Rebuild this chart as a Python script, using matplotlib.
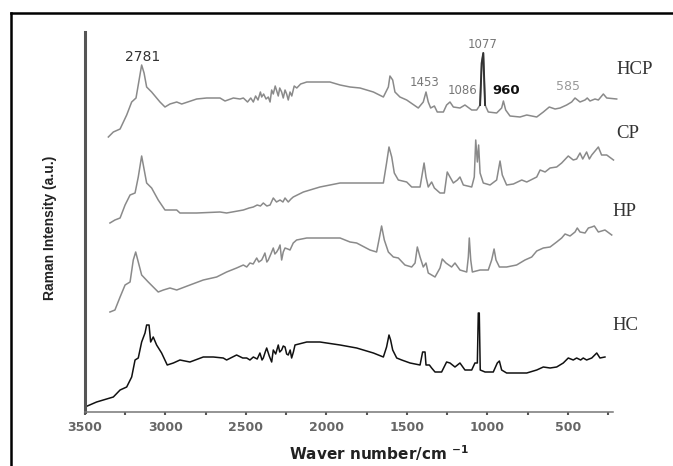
import matplotlib
matplotlib.use('Agg')
import matplotlib.pyplot as plt
from matplotlib.lines import Line2D

# ==============================================================================
# spectra: (wavenumber cm-1, offset intensity a.u.)
hcp_points = [(3355, 275), (3324, 280), (3282, 283), (3241, 297), (3210, 310), (3183, 314),
              (3167, 329), (3148, 347), (3133, 339), (3117, 325), (3086, 320), (3034, 310),
              (3003, 305), (2972, 308), (2930, 310), (2899, 308), (2806, 313), (2744, 314),
              (2661, 314), (2630, 311), (2578, 314), (2537, 313), (2516, 314), (2490, 310),
              (2470, 314), (2454, 310), (2440, 316), (2425, 312), (2410, 320), (2402, 315),
              (2390, 318), (2375, 313), (2361, 315), (2350, 310), (2340, 322), (2330, 318),
              (2318, 326), (2299, 316), (2290, 324), (2278, 320), (2268, 314), (2257, 322),
              (2247, 318), (2237, 312), (2226, 320), (2215, 316), (2200, 326), (2184, 324),
              (2160, 328), (2122, 330), (2050, 330), (1978, 330), (1915, 327), (1853, 325),
              (1791, 324), (1708, 320), (1646, 315), (1615, 325), (1605, 336), (1588, 332),
              (1574, 320), (1543, 315), (1501, 312), (1429, 304), (1398, 310), (1381, 320),
              (1367, 310), (1352, 304), (1329, 306), (1311, 300), (1273, 300), (1253, 307),
              (1232, 310), (1211, 305), (1170, 304), (1139, 307), (1097, 302), (1066, 302),
              (1045, 307), (1035, 349), (1025, 359), (1014, 307), (994, 300), (942, 299),
              (911, 304), (900, 311), (886, 302), (859, 296), (797, 295), (755, 297),
              (693, 295), (652, 300), (615, 305), (579, 303), (548, 304), (507, 307),
              (476, 310), (455, 314), (424, 310), (393, 312), (379, 314), (362, 311),
              (331, 313), (310, 312), (279, 318), (258, 314), (196, 313)]

cp_points = [(3345, 189), (3314, 192), (3282, 194), (3251, 207), (3220, 217), (3189, 219),
             (3169, 235), (3148, 256), (3132, 242), (3117, 229), (3086, 224), (3045, 212),
             (3003, 202), (2972, 202), (2930, 202), (2910, 199), (2806, 199), (2661, 200),
             (2620, 199), (2516, 202), (2480, 204), (2454, 205), (2430, 207), (2410, 206),
             (2392, 209), (2370, 206), (2350, 207), (2330, 214), (2310, 210), (2288, 212),
             (2270, 210), (2257, 214), (2237, 210), (2220, 213), (2206, 215), (2143, 220),
             (2040, 225), (1915, 229), (1791, 229), (1708, 229), (1646, 229), (1626, 249),
             (1611, 265), (1594, 255), (1578, 239), (1553, 232), (1501, 230), (1470, 225),
             (1418, 225), (1393, 249), (1381, 235), (1367, 225), (1346, 230), (1329, 224),
             (1294, 219), (1267, 219), (1249, 240), (1232, 235), (1211, 229), (1186, 232),
             (1170, 235), (1149, 227), (1097, 225), (1081, 235), (1072, 272), (1062, 250),
             (1054, 267), (1045, 239), (1025, 229), (983, 227), (942, 232), (921, 251),
             (907, 237), (880, 227), (838, 228), (786, 232), (755, 230), (693, 235),
             (672, 242), (641, 240), (610, 244), (569, 245), (538, 249), (497, 256),
             (466, 252), (445, 253), (424, 259), (407, 253), (383, 260), (366, 253),
             (351, 257), (310, 265), (290, 257), (258, 257), (216, 252)]

hp_points = [(3345, 100), (3314, 102), (3282, 115), (3251, 127), (3220, 130), (3200, 152),
             (3185, 160), (3169, 150), (3148, 137), (3107, 130), (3045, 120), (3013, 122),
             (2972, 124), (2930, 122), (2848, 127), (2765, 132), (2682, 135), (2620, 140),
             (2558, 144), (2516, 147), (2495, 145), (2475, 149), (2455, 148), (2433, 154),
             (2420, 150), (2402, 152), (2390, 156), (2382, 159), (2370, 150), (2361, 152),
             (2345, 158), (2330, 164), (2320, 158), (2309, 160), (2298, 163), (2288, 167),
             (2278, 152), (2268, 160), (2257, 164), (2240, 163), (2226, 162), (2206, 169),
             (2185, 172), (2122, 174), (1998, 174), (1915, 174), (1853, 170), (1812, 169),
             (1729, 162), (1688, 160), (1671, 174), (1657, 186), (1640, 172), (1615, 160),
             (1584, 155), (1553, 154), (1512, 147), (1470, 145), (1449, 149), (1435, 165),
             (1418, 155), (1398, 145), (1381, 149), (1367, 139), (1325, 135), (1294, 144),
             (1280, 153), (1257, 149), (1222, 145), (1201, 149), (1170, 142), (1128, 140),
             (1118, 155), (1112, 174), (1103, 152), (1093, 140), (1045, 142), (994, 142),
             (973, 152), (958, 163), (946, 152), (925, 145), (880, 145), (818, 147),
             (766, 152), (724, 155), (693, 161), (652, 164), (610, 165), (569, 170),
             (538, 174), (517, 178), (486, 176), (455, 180), (441, 184), (424, 180),
             (393, 179), (372, 184), (351, 185), (335, 186), (310, 180), (269, 182),
             (227, 177)]

hc_points = [(3500, 5), (3428, 10), (3324, 15), (3282, 22), (3241, 25), (3210, 35),
             (3189, 52), (3169, 54), (3148, 70), (3127, 79), (3117, 87), (3102, 87),
             (3092, 70), (3076, 75), (3055, 67), (3024, 59), (2989, 47), (2951, 49),
             (2910, 52), (2848, 50), (2765, 55), (2703, 55), (2641, 54), (2620, 52),
             (2558, 57), (2520, 54), (2495, 54), (2475, 52), (2454, 55), (2430, 53),
             (2413, 59), (2400, 52), (2392, 54), (2380, 60), (2371, 64), (2355, 56),
             (2340, 50), (2330, 62), (2315, 58), (2299, 67), (2290, 60), (2278, 62),
             (2268, 66), (2257, 65), (2247, 58), (2237, 57), (2225, 62), (2216, 54),
             (2205, 60), (2195, 67), (2122, 70), (2040, 70), (1915, 67), (1812, 64),
             (1708, 59), (1646, 55), (1626, 65), (1611, 77), (1601, 72), (1588, 62),
             (1563, 54), (1532, 52), (1480, 49), (1418, 47), (1402, 60), (1387, 60),
             (1381, 47), (1360, 47), (1346, 44), (1325, 40), (1284, 40), (1253, 50),
             (1232, 49), (1201, 45), (1170, 49), (1139, 42), (1097, 42), (1077, 49),
             (1062, 49), (1056, 99), (1050, 99), (1044, 42), (1014, 40), (963, 40),
             (938, 49), (925, 51), (911, 42), (880, 39), (838, 39), (786, 39),
             (755, 39), (693, 42), (652, 45), (610, 44), (569, 45), (528, 49),
             (497, 54), (466, 52), (445, 54), (420, 52), (404, 54), (383, 52),
             (351, 54), (320, 59), (300, 54), (269, 55)]

# peak annotations: (text, wavenumber, height)
peak_labels = [('2781', 3140, 355), ('1077', 1027, 367), ('1453', 1387, 329),
               ('1086', 1151, 322), ('960', 884, 321), ('585', 499, 326)]

series_names = ['HCP', 'CP', 'HP', 'HC']

x_ticks = [3500, 3000, 2500, 2000, 1500, 1000, 500]
x_minor = [3250, 2750, 2250, 1750, 1250, 750, 250]

# ==============================================================================
fig = plt.figure(figsize=(6.73, 4.66), dpi=100)
ax = fig.add_axes([85/673, 54/466, 528/673, 380/466])

def unzip(points):
    return [p[0] for p in points], [p[1] for p in points]

gray = '#8a8a8a'
for pts, col in [(hcp_points, gray), (cp_points, gray), (hp_points, gray), (hc_points, '#111111')]:
    xs, ys = unzip(pts)
    ax.plot(xs, ys, color=col, lw=1.1, clip_on=False)

# dark strong band in HCP
xs, ys = unzip([p for p in hcp_points if 1014 <= p[0] <= 1045])
ax.plot(xs, ys, color='#333333', lw=1.4, clip_on=False)

ax.set_xlim(3500, 219)
ax.set_ylim(0, 380)
ax.set_yticks([])
ax.set_xticks(x_ticks)
ax.set_xticks(x_minor, minor=True)
ax.tick_params(axis='x', which='both', length=2.5, width=1.5, color='#555555',
               labelsize=9, labelcolor='#666666', pad=4)
for lab in ax.get_xticklabels():
    lab.set_fontweight('bold')

ax.spines['top'].set_visible(False)
ax.spines['right'].set_visible(False)
ax.spines['left'].set_linewidth(2.2)
ax.spines['left'].set_color('#555555')
ax.spines['bottom'].set_linewidth(1.1)
ax.spines['bottom'].set_color('#777777')

# ------------------------------------------------------------------------------
# peak labels
styles = {'2781': dict(color='#333333', fontsize=10),
          '960': dict(color='#111111', fontsize=9.5, fontweight='bold'),
          '585': dict(color='#999999', fontsize=9)}
for txt, wx, wy in peak_labels:
    st = styles.get(txt, dict(color='#777777', fontsize=8.5))
    ax.text(wx, wy, txt, ha='center', va='center', **st)

# series names (right hand side)
name_pos = [(616, 70), (616, 133), (612, 212), (612, 325)]
for name, (px, py) in zip(series_names, name_pos):
    fig.text(px/673, 1 - py/466, name, ha='left', va='center',
             family='Liberation Serif', fontsize=13.5, color='#333333')

fig.text(379/673, 1 - 453/466, r'Waver number/cm $^{\mathbf{-1}}$', ha='center', va='center',
         fontsize=11, fontweight='bold', color='#222222')
fig.text(50/673, 1 - 228/466, 'Raman Intensity (a.u.)', rotation=90, ha='center', va='center',
         family=['Liberation Sans Narrow', 'Liberation Sans'], fontsize=10,
         fontweight='bold', color='#222222')

# black frame around the figure (top and left edges visible)
fig.add_artist(Line2D([11/673, 1], [1 - 13/466, 1 - 13/466], color='black', lw=1.8))
fig.add_artist(Line2D([11/673, 11/673], [0, 1 - 13/466], color='black', lw=1.8))

fig.savefig('out.png', dpi=100)
